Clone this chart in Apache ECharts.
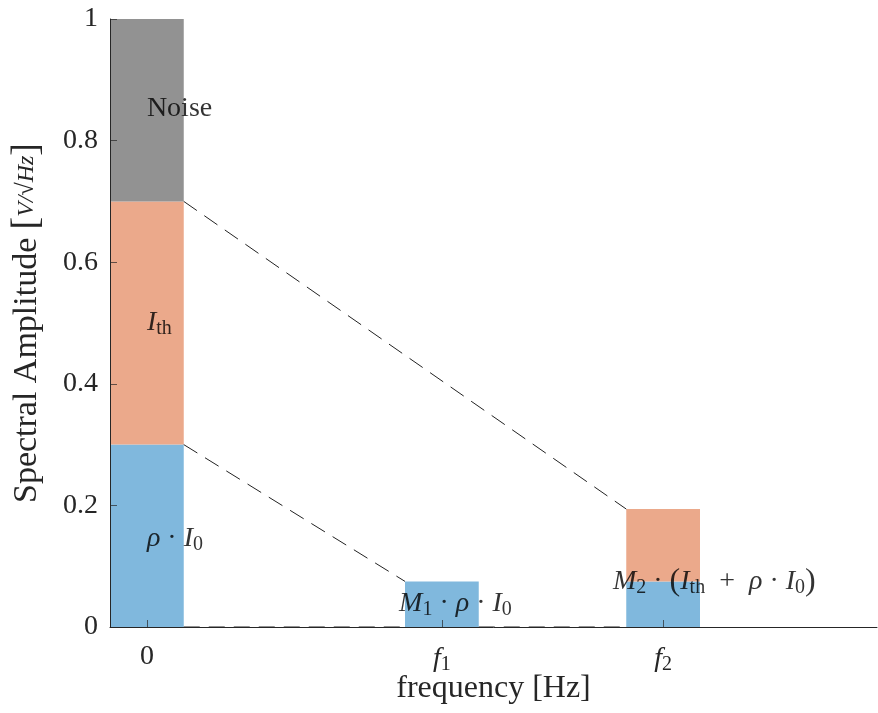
<!DOCTYPE html>
<html>
<head>
<meta charset="utf-8">
<script src="https://cdn.jsdelivr.net/npm/echarts@6/dist/echarts.min.js"></script>
<style>html,body{margin:0;padding:0;background:#fff}#c{width:878px;height:713px}</style>
</head>
<body>
<div id="c"></div>
<script>
// ---- data ----
var barPositions = [0, 4, 7];            // x positions (0, f1, f2)
var xTickLabels = ['0', 'f1', 'f2'];
var blueValues = [0.3, 0.075, 0.075];    // rho * I0 contribution
var orangeValues = [0.4, 0, 0.119];      // I_th contribution
var grayValues = [0.3, 0, 0];            // Noise contribution
var yTicks = [0, 0.2, 0.4, 0.6, 0.8, 1];
var annotationTexts = [
  'Noise',
  '{i|I}{s|th}',
  '{i|ρ} · {i|I}{s|0}',
  '{i|M}{s|1} · {i|ρ} · {i|I}{s|0}',
  '{i|M}{s|2} · {p|(}{i|I}{s|th}\u2002+\u2002{i|ρ} · {i|I}{s|0}{p|)}'
];
var annotationX = [0, 0, 0, 3.42, 6.32];
var annotationY = [0.853, 0.5, 0.145, 0.038, 0.074];

var FONT = 'Liberation Serif';
var BAR_W = 1; // bar width in data units

function rectSeries(name, vals, bases, color) {
  var data = barPositions.map(function (x, i) { return [x, bases[i], bases[i] + vals[i]]; })
    .filter(function (d) { return d[2] > d[1]; });
  return {
    type: 'custom', name: name, data: data, z: 2,
    encode: { x: 0, y: [1, 2] },
    renderItem: function (params, api) {
      var x = api.value(0), y0 = api.value(1), y1 = api.value(2);
      var p0 = api.coord([x - BAR_W / 2, y1]);
      var p1 = api.coord([x + BAR_W / 2, y0]);
      return { type: 'rect', shape: { x: p0[0], y: p0[1], width: p1[0] - p0[0], height: p1[1] - p0[1] },
        style: { fill: color } };
    }
  };
}
var zeros = barPositions.map(function () { return 0; });
var orangeBase = blueValues.slice();
var grayBase = blueValues.map(function (v, i) { return v + orangeValues[i]; });

function lineSeries(pts) {
  return { type: 'line', data: pts, symbol: 'none', silent: true, z: 3,
    lineStyle: { color: '#222', width: 1, type: [16, 9] } };
}
var half = BAR_W / 2;
var connectors = [
  [[barPositions[0] + half, grayBase[0]], [barPositions[2] - half, grayBase[2]]],
  [[barPositions[0] + half, blueValues[0]], [barPositions[1] - half, blueValues[1]]],
  [[barPositions[0] + half, 0], [barPositions[1] - half, 0]],
  [[barPositions[1] + half, 0], [barPositions[2] - half, 0]]
];

var richStyles = {
  i: { fontFamily: FONT, fontStyle: 'italic', fontSize: 28, color: '#000' },
  s: { fontFamily: FONT, fontSize: 20, color: '#000', padding: [12, 0, 0, 0] },
  p: { fontFamily: FONT, fontSize: 32, color: '#000' }
};

var chart = echarts.init(document.getElementById('c'));
var series = [
  rectSeries('rho', blueValues, zeros, '#80B8DD'),
  rectSeries('Ith', orangeValues, orangeBase, '#EBA98B'),
  rectSeries('Noise', grayValues, grayBase, '#929292')
].concat(connectors.map(lineSeries));
series.push({
  type: 'scatter', symbolSize: 0, z: 5, silent: true,
  data: annotationX.map(function (x, i) { return [x, annotationY[i], i]; }),
  label: {
    show: true, position: 'right', distance: 0,
    fontFamily: FONT, fontSize: 28, color: '#000',
    formatter: function (p) { return annotationTexts[p.value[2]]; },
    rich: richStyles
  }
});

chart.setOption({
  animation: false,
  grid: { left: 110, right: 1, top: 19, bottom: 86, containLabel: false, outerBoundsMode: 'none' },
  xAxis: {
    type: 'value', min: -0.5, max: 9.9, z: 10,
    splitLine: { show: false },
    axisLine: { onZero: false, lineStyle: { color: '#262626', width: 1 } },
    axisTick: { inside: true, length: 7, customValues: barPositions, lineStyle: { color: '#262626', opacity: 0.7 } },
    axisLabel: {
      customValues: barPositions, margin: 16,
      fontFamily: FONT, fontSize: 28, color: '#262626',
      formatter: function (v) {
        var t = xTickLabels[barPositions.indexOf(v)];
        if (t === '0') return '0';
        return '{i|f}{s|' + t.slice(1) + '}';
      },
      rich: {
        i: { fontFamily: FONT, fontStyle: 'italic', fontSize: 28, color: '#262626' },
        s: { fontFamily: FONT, fontSize: 20, color: '#262626', padding: [12, 0, 0, 0] }
      }
    },
    name: 'frequency [Hz]', nameLocation: 'middle', nameGap: 46, nameMoveOverlap: false,
    nameTextStyle: { fontFamily: FONT, fontSize: 32, color: '#262626' }
  },
  yAxis: {
    type: 'value', min: 0, max: 1, interval: 0.2, z: 10,
    splitLine: { show: false },
    axisLine: { show: true, onZero: false, lineStyle: { color: '#262626', width: 1 } },
    axisTick: { show: true, inside: true, length: 7, lineStyle: { color: '#262626', opacity: 0.7 } },
    axisLabel: {
      margin: 12, fontFamily: FONT, fontSize: 28, color: '#262626',
      formatter: function (v) { var k = yTicks.indexOf(Math.round(v * 10) / 10); return k >= 0 ? String(yTicks[k]) : ''; }
    },
    name: '{t|Spectral Amplitude} {b|[}{f|V/√Hz}{b|]}', nameLocation: 'middle', nameGap: 64,
    nameTextStyle: {
      fontFamily: FONT, fontSize: 33, color: '#262626',
      rich: {
        t: { fontFamily: FONT, fontSize: 34, color: '#262626' },
        b: { fontFamily: FONT, fontSize: 38, color: '#262626' },
        f: { fontFamily: FONT, fontStyle: 'italic', fontSize: 24, color: '#262626' }
      }
    }
  },
  series: series
});
</script>
</body>
</html>
